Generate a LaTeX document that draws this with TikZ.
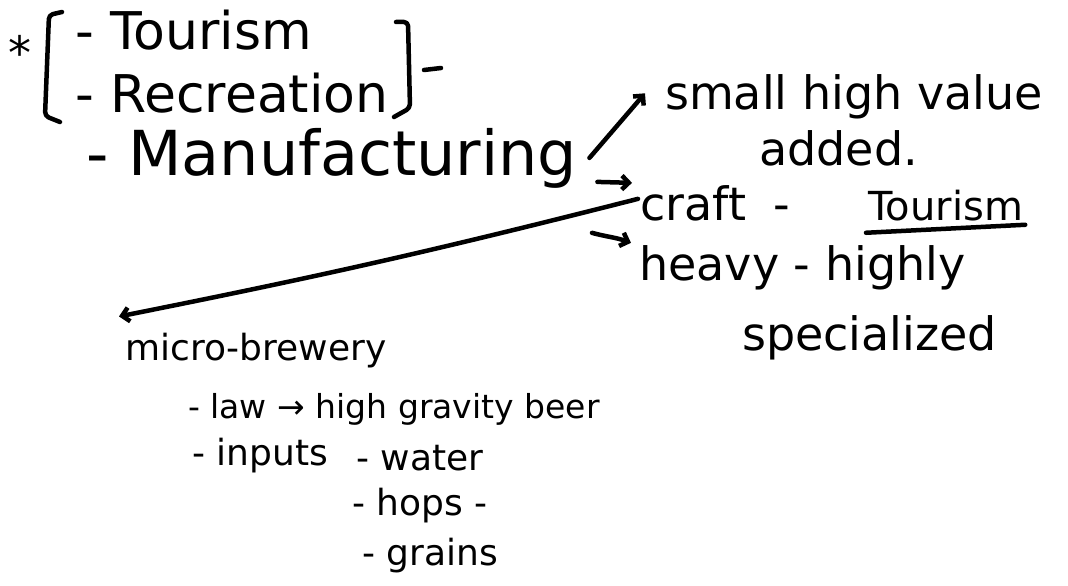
\documentclass[tikz,border=0pt]{standalone}
\usepackage{fontspec}
\setmainfont{DejaVu Sans}
\usetikzlibrary{arrows.meta}
\begin{document}
\begin{tikzpicture}[x=1pt, y=-1pt,
	pen/.style={line width=4.5pt, line cap=round, line join=round},
	bignote/.style={font=\fontsize{52}{60}\selectfont, anchor=base west, inner sep=2pt},
	midnote/.style={font=\fontsize{46}{52}\selectfont, anchor=base west, inner sep=2pt},
	smallnote/.style={font=\fontsize{36}{40}\selectfont, anchor=base west, inner sep=2pt},
	>={Straight Barb[length=7pt, width=14pt]}]
	\fill[white] (0,0) rectangle (1068,586);
	\useasboundingbox (0,0) rectangle (1068,586);

	% left column
	\node (star) [midnote, anchor=base] at (20,70) {*};
	\node (tour) [bignote] at (73,50) {- Tourism};
	\node (recr) [bignote] at (73,112) {- Recreation};
	\node (manu) [bignote, font=\fontsize{62}{70}\selectfont] at (84,175) {- Manufacturing};
	\draw[pen, rounded corners=4pt] (62,12) -- (49,15) -- (45,116) -- (60,122);
	\draw[pen, rounded corners=4pt] (396,22) -- (408,22) -- (410,108) -- (394,117);
	\draw[pen] (424,70) -- (441,68);

	% kinds of manufacturing
	\node (small) [midnote] at (663,110) {small high value};
	\node (added) [midnote] at (757,165) {added.};
	\node (craft) [midnote] at (638,220) {craft\hspace{0.6em}-};
	\node (tourc) [midnote, font=\fontsize{40}{44}\selectfont] at (866,220) {Tourism};
	\node (heavy) [midnote] at (637,280) {heavy - highly};
	\node (spec) [midnote] at (740,350) {specialized};

	% micro-brewery
	\node (micro) [smallnote] at (123,360) {micro-brewery};
	\node (law) [smallnote, font=\fontsize{33}{38}\selectfont] at (186,418) {- law → high gravity beer};
	\node (inputs) [smallnote] at (190,465) {- inputs};
	\node (water) [smallnote] at (354,470) {- water};
	\node (hops) [smallnote] at (350,515) {- hops -};
	\node (grains) [smallnote] at (360,565) {- grains};

	\draw[pen, ->] ([xshift=10pt]manu.east) -- ([xshift=-18pt, yshift=4pt]small.west);
	\draw[pen, ->] ([xshift=18pt, yshift=-24pt]manu.east) -- ([xshift=-6pt]craft.north west);
	\draw[pen, ->] ([xshift=-45pt, yshift=10pt]heavy.north west) to[out=-15, in=160] ([xshift=-6pt]heavy.north west);
	\draw[pen] ([yshift=-10pt]tourc.south west) -- ([yshift=-2pt]tourc.south east);
	\draw[pen, ->] ([yshift=4pt]craft.west) to[bend left=1.5] ([shift={(-4pt,14pt)}]micro.north west);
\end{tikzpicture}
\end{document}
